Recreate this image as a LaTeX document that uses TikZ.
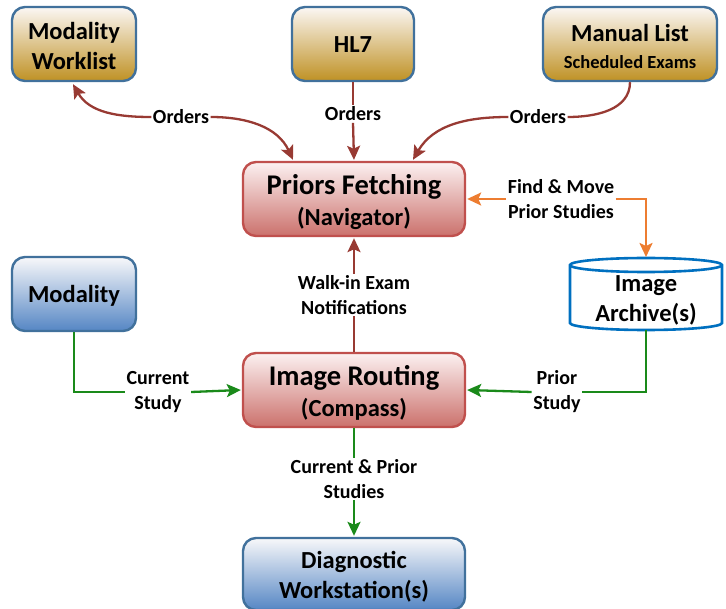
\documentclass[tikz,border=0pt]{standalone}
\usepackage{fontspec}
\setmainfont{Carlito}
\usetikzlibrary{arrows.meta,calc}
\definecolor{goldB}{HTML}{BF9124}
\definecolor{goldT}{HTML}{FBF7F4}
\definecolor{redB}{HTML}{CB716C}
\definecolor{redT}{HTML}{FCF1F1}
\definecolor{redD}{HTML}{C0504D}
\definecolor{bluB}{HTML}{5586C4}
\definecolor{bluT}{HTML}{F8F8FA}
\definecolor{bluD}{HTML}{41719C}
\definecolor{archD}{HTML}{0070C0}
\definecolor{brn}{HTML}{983A33}
\definecolor{orn}{HTML}{ED7D31}
\definecolor{grn}{HTML}{1A8A1A}
\newcommand{\bigtxt}{\fontsize{24.5}{30}\selectfont}
\newcommand{\hugetxt}{\fontsize{28.5}{31}\selectfont}
\tikzset{
  x=1pt,y=-1pt,
  boxbase/.style={rounded corners=13pt,line width=2.4pt,inner sep=0pt},
  goldbox/.style={boxbase,draw=bluD,top color=goldT,bottom color=goldB,minimum height=74pt},
  redbox/.style={boxbase,draw=redD,top color=redT,bottom color=redB,minimum width=222pt,minimum height=74pt},
  bluebox/.style={boxbase,draw=bluD,top color=bluT,bottom color=bluB,minimum height=74pt},
  btxt/.style={align=center,inner sep=0pt,font=\bfseries\bigtxt},
  rtxt/.style={align=center,inner sep=0pt,font=\bfseries\hugetxt},
  lbl/.style={fill=white,inner sep=1.5pt,align=center,font=\fontsize{20}{25}\selectfont\bfseries},
  tip/.style={-{Stealth[length=14pt,width=13pt,inset=3pt]}},
  con/.style={line width=2.3pt},
}
\begin{document}
\begin{tikzpicture}
\useasboundingbox (0,0) rectangle (726,609);
% boxes
\node[goldbox,minimum width=124pt] (wl) at (74,44) {};
\node[btxt] (wlt) at ($(wl)+(0,2)$) {Modality\\Worklist};
\node[goldbox,minimum width=122pt] (hl) at (353,44) {};
\node[btxt] (hlt) at ($(hl)+(0,1)$) {HL7};
\node[goldbox,minimum width=174pt] (ml) at (630,44) {};
\node[btxt,font=\bfseries\fontsize{24.5}{27}\selectfont] (mlt) at ($(ml)+(0,2)$) {Manual List\\{\fontsize{18.5}{22}\selectfont Scheduled Exams}};
\node[redbox] (pf) at (354,199) {};
\node[rtxt] (pft) at ($(pf)+(0,3)$) {Priors Fetching\\{\bigtxt (Navigator)}};
\node[bluebox,minimum width=124pt] (mod) at (74,294) {};
\node[btxt] (modt) at ($(mod)+(0,2)$) {Modality};
\node[redbox] (ir) at (354,390) {};
\node[rtxt] (irt) at ($(ir)+(0,3)$) {Image Routing\\{\bigtxt (Compass)}};
\node[bluebox,minimum width=222pt,minimum height=72pt] (dw) at (354,574) {};
\node[btxt] (dwt) at ($(dw)+(0,3)$) {Diagnostic\\Workstation(s)};
% archive cylinder
\draw[archD,line width=2.6pt,fill=white] (570,265) -- (570,323) arc[start angle=180,end angle=360,x radius=76pt,y radius=7pt] -- (722,265) arc[start angle=0,end angle=180,x radius=76pt,y radius=7pt] -- cycle;
\draw[archD,line width=2.6pt] (570,265) arc[start angle=180,end angle=360,x radius=76pt,y radius=7pt];
\node[btxt] (ar) at (646,300) {Image\\Archive(s)};
\coordinate (arT) at (646,257);
\coordinate (arB) at (646,330);
% labels
\node[lbl] (o1) at (181,117) {Orders};
\node[lbl] (o2) at (353,114) {Orders};
\node[lbl] (o3) at (538,117) {Orders};
\node[lbl] (fm) at (561,199) {Find \& Move\\Prior Studies};
\node[lbl] (wi) at (354,295) {Walk-in Exam\\Notifications};
\node[lbl] (cs) at (158,392) {Current\\Study};
\node[lbl] (ps) at (557,392) {Prior\\Study};
\node[lbl] (cp) at (354,479) {Current \& Prior\\Studies};
% connectors
\coordinate (pfA) at ($(pf.north)+(-61,-1)$);
\coordinate (pfC) at ($(pf.north)+(59,-1)$);
\coordinate (wlB) at ($(wl.south)+(-1,2)$);
\draw[brn,con,tip] (o1.west) to[out=180,in=-60] (wlB);
\draw[brn,con,tip] (o1.east) to[out=0,in=115] (pfA);
\draw[brn,con] (hl.south) -- (o2.north);
\draw[brn,con,tip] (o2.south) -- ($(pf.north)+(0,-1)$);
\draw[brn,con] (ml.south) to[out=-90,in=0] (o3.east);
\draw[brn,con,tip] (o3.west) to[out=180,in=60] (pfC);
\draw[orn,con,tip] (fm.west) -- ($(pf.east)+(1,0)$);
\draw[orn,con,tip] (fm.east) -| (arT);
\draw[brn,con] (ir.north) -- (wi.south);
\draw[brn,con,tip] (wi.north) -- ($(pf.south)+(0,1)$);
\draw[grn,con] (mod.south) |- (cs.west);
\draw[grn,con,tip] (cs.east) -- ($(ir.west)+(-1,0)$);
\draw[grn,con] (arB) |- (ps.east);
\draw[grn,con,tip] (ps.west) -- ($(ir.east)+(1,0)$);
\draw[grn,con] (ir.south) -- (cp.north);
\draw[grn,con,tip] (cp.south) -- ($(dw.north)+(0,-1)$);
\end{tikzpicture}
\end{document}
